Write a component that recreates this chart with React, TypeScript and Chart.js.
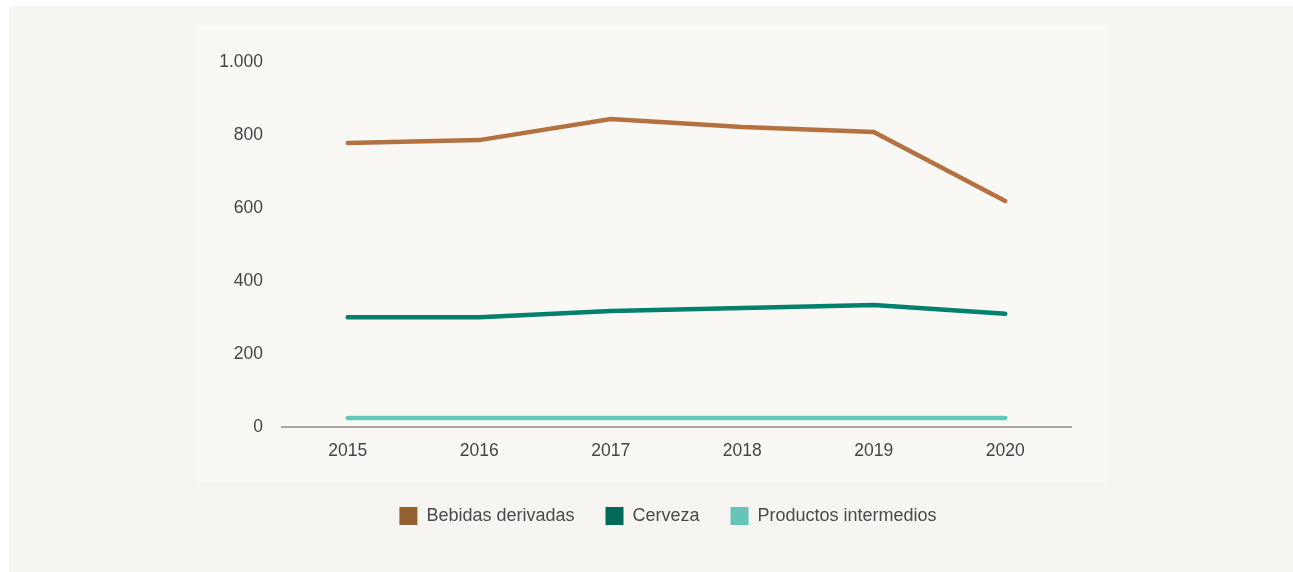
import React, { useEffect, useRef } from "react";
import { Chart, registerables } from "chart.js";

Chart.register(...registerables);

const years = ["2015", "2016", "2017", "2018", "2019", "2020"];
const bebidasDerivadas = [778, 786, 844, 822, 808, 619];
const cerveza = [301, 301, 318, 326, 334, 310];
const productosIntermedios = [25, 25, 25, 25, 25, 25];
const yTicks = [0, 200, 400, 600, 800, 1000];

const FONT = "'Liberation Sans', Arial, Helvetica, sans-serif";

const shiftLegend = {
  id: "shiftLegend",
  afterLayout(chart: any) {
    const lg = chart.legend;
    if (lg) {
      lg.left += 34;
      lg.right += 34;
    }
  },
};

export default function App() {
  const ref = useRef<HTMLCanvasElement | null>(null);

  useEffect(() => {
    if (!ref.current) return;
    const chart = new Chart(ref.current, {
      type: "line",
      data: {
        labels: years,
        datasets: [
          {
            label: "Bebidas derivadas",
            data: bebidasDerivadas,
            borderColor: "#b5713f",
            backgroundColor: "#93602f",
            borderWidth: 4.5,
            borderCapStyle: "round",
            pointRadius: 0,
            tension: 0,
          },
          {
            label: "Cerveza",
            data: cerveza,
            borderColor: "#00816c",
            backgroundColor: "#00695a",
            borderWidth: 4.5,
            borderCapStyle: "round",
            pointRadius: 0,
            tension: 0,
          },
          {
            label: "Productos intermedios",
            data: productosIntermedios,
            borderColor: "#66c6b9",
            backgroundColor: "#66c5b9",
            borderWidth: 4.5,
            borderCapStyle: "round",
            pointRadius: 0,
            tension: 0,
          },
        ],
      },
      plugins: [shiftLegend],
      options: {
        animation: false,
        responsive: false,
        maintainAspectRatio: false,
        layout: { padding: { top: 37, right: 36, bottom: 10, left: 0 } },
        plugins: {
          tooltip: { enabled: false },
          legend: {
            position: "bottom",
            labels: {
              boxWidth: 18,
              boxHeight: 18,
              padding: 31,
              color: "#4a4a4a",
              font: { family: FONT, size: 18 },
              generateLabels: (c: any) => {
                const items = Chart.defaults.plugins.legend.labels.generateLabels(c);
                items.forEach((it: any) => {
                  it.lineWidth = 0;
                  it.strokeStyle = "rgba(0,0,0,0)";
                });
                return items;
              },
            },
          },
        },
        scales: {
          x: {
            offset: true,
            grid: { display: false, drawTicks: false },
            border: { display: true, color: "#a7a7a7", width: 2 },
            ticks: {
              padding: 14,
              color: "#444444",
              font: { family: FONT, size: 17.5 },
            },
            afterFit: (s: any) => {
              s.height = 49;
            },
          },
          y: {
            min: 0,
            max: 1000,
            afterBuildTicks: (s: any) => {
              s.ticks = yTicks.map((v) => ({ value: v }));
            },
            grid: { display: false, drawTicks: false },
            border: { display: false },
            ticks: {
              padding: 19,
              color: "#444444",
              font: { family: FONT, size: 17.5 },
              callback: (v: any) => Number(v).toLocaleString("de-DE"),
            },
            afterFit: (s: any) => {
              s.width = 85;
            },
          },
        },
      },
    });
    return () => chart.destroy();
  }, []);

  return (
    <div>
      <div
        style={{
          position: "absolute",
          left: 9,
          top: 6,
          width: 1284,
          height: 566,
          background: "#f6f5f1",
        }}
      />
      <div
        style={{
          position: "absolute",
          left: 197,
          top: 25,
          width: 910,
          height: 457,
          background: "#f9f8f5",
        }}
      />
      <canvas
        ref={ref}
        width={910}
        height={520}
        style={{ position: "absolute", left: 197, top: 25, width: 910, height: 520 }}
      />
    </div>
  );
}
